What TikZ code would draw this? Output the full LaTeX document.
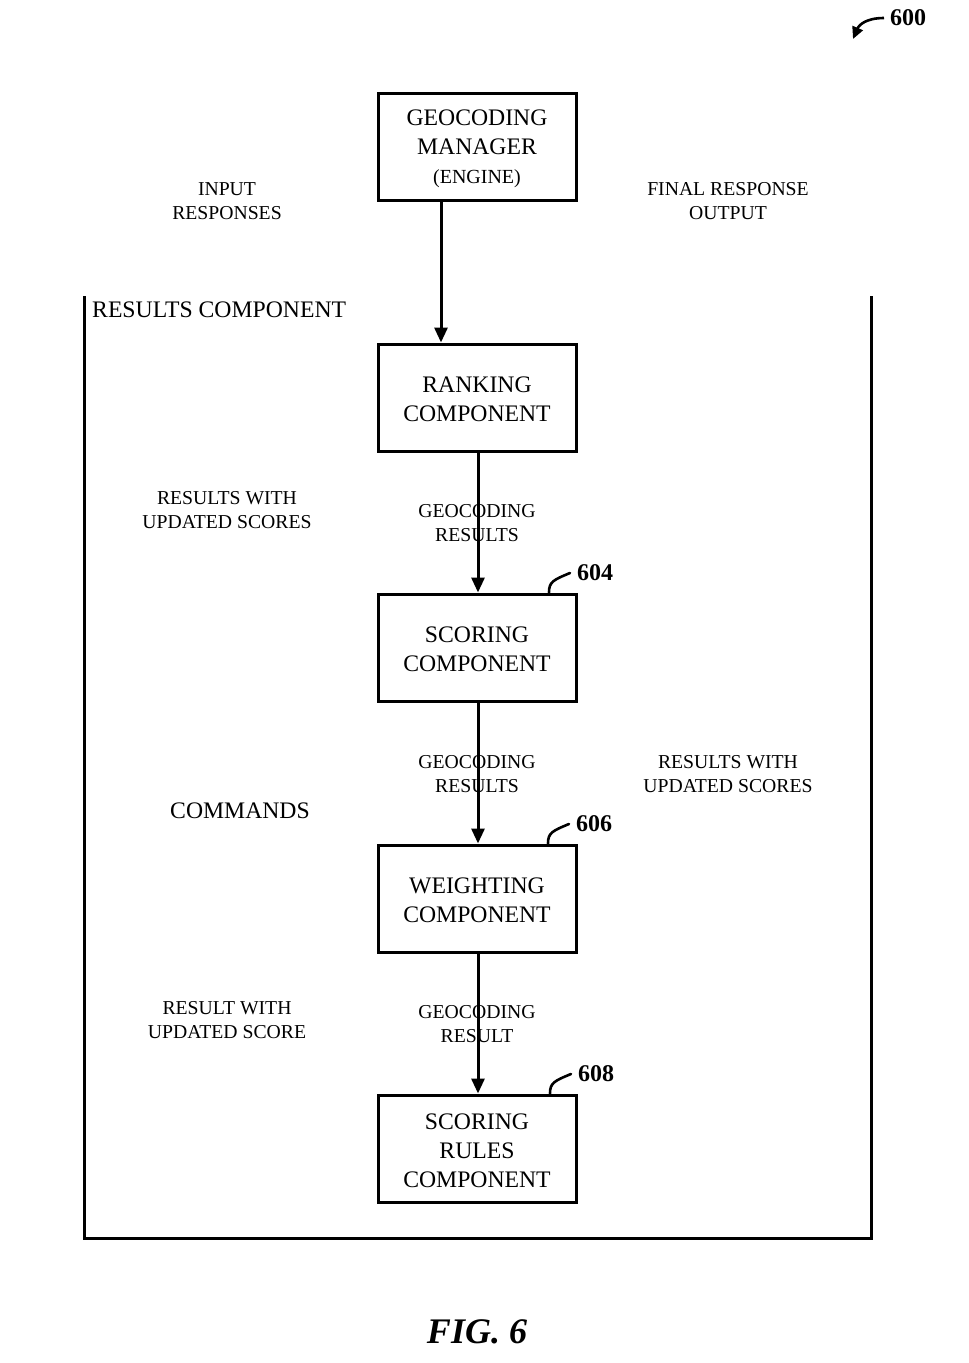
\documentclass[tikz,border=0pt]{standalone}
\usepackage{fontspec}
\setmainfont{Liberation Serif}
\usetikzlibrary{arrows.meta}
\begin{document}
\begin{tikzpicture}[x=1pt,y=-1pt,
  boxstyle/.style={draw,line width=3pt,minimum width=198pt,minimum height=107pt,align=center,inner sep=0pt,font=\fontsize{23.7}{29}\selectfont},
  lbl/.style={align=center,inner sep=0pt,font=\fontsize{19.7}{24}\selectfont},
  biglbl/.style={align=center,inner sep=0pt,font=\fontsize{23.7}{29}\selectfont},
  numlbl/.style={inner sep=0pt,anchor=west,font=\fontsize{24}{28}\selectfont\bfseries},
  flow/.style={line width=3pt,-{Triangle[length=15pt,width=13pt]}},
  hook/.style={line width=2.6pt,line cap=round}
]
\useasboundingbox (0,0) rectangle (969,1363);
% boxes
\node[boxstyle] (gm) at (477,147) {};
\node[boxstyle] (rank) at (477,397.5) {};
\node[boxstyle] (score) at (477,647.5) {};
\node[boxstyle] (weight) at (477,898.5) {};
\node[boxstyle] (rules) at (477,1148.5) {};
\node[biglbl] (gmt) at (477,149) {GEOCODING\\MANAGER\\{\fontsize{20}{29}\selectfont(ENGINE)}};
\node[biglbl] (rankt) at (477,399.5) {RANKING\\COMPONENT};
\node[biglbl] (scoret) at (477,649.5) {SCORING\\COMPONENT};
\node[biglbl] (weightt) at (477,900.5) {WEIGHTING\\COMPONENT};
\node[biglbl] (rulest) at (477,1150.5) {SCORING\\RULES\\COMPONENT};
% frame
\draw[line width=3pt] (84,296) -- (84,1238) -- (871,1238) -- (871,296);
\node[biglbl,anchor=west] (rc) at (92,310) {RESULTS COMPONENT};
% labels
\node[lbl] (inp) at (227,201) {INPUT\\RESPONSES};
\node[lbl] (fin) at (728,201) {FINAL RESPONSE\\OUTPUT};
\node[lbl] (rws1) at (227,510) {RESULTS WITH\\UPDATED SCORES};
\node[lbl] (gr1) at (477,523) {GEOCODING\\RESULTS};
\node[lbl] (gr2) at (477,774) {GEOCODING\\RESULTS};
\node[lbl] (rws2) at (728,774) {RESULTS WITH\\UPDATED SCORES};
\node[biglbl] (cmd) at (240,811) {COMMANDS};
\node[lbl] (rwu) at (227,1020) {RESULT WITH\\UPDATED SCORE};
\node[lbl] (gr3) at (477,1024) {GEOCODING\\RESULT};
% arrows
\draw[flow] (gm.south -| 441,0) -- (rank.north -| 441,0);
\draw[flow] (rank.south -| 478,0) -- (score.north -| 478,0);
\draw[flow] (score.south -| 478,0) -- (weight.north -| 478,0);
\draw[flow] (weight.south -| 478,0) -- (rules.north -| 478,0);
% reference numerals
\node[numlbl] (n604) at (577,573) {604};
\node[numlbl] (n606) at (576,824) {606};
\node[numlbl] (n608) at (578,1074) {608};
\draw[hook] (score.north -| 549,0) .. controls (549,582) and (553,580) .. (n604.west -| 570,0);
\draw[hook] (weight.north -| 548,0) .. controls (548,833) and (552,831) .. (n606.west -| 569,0);
\draw[hook] (rules.north -| 550,0) .. controls (550,1083) and (554,1081) .. (n608.west -| 571,0);
\node[numlbl] (n600) at (890,18) {600};
\draw[line width=2.6pt,-{Triangle[length=12pt,width=11pt]}] (n600.west -| 884,0) .. controls (866,18) and (859,25) .. (853,39);
\node[inner sep=0pt,font=\fontsize{36}{40}\selectfont\bfseries\itshape] (fig) at (477,1332) {FIG. 6};
\end{tikzpicture}
\end{document}
